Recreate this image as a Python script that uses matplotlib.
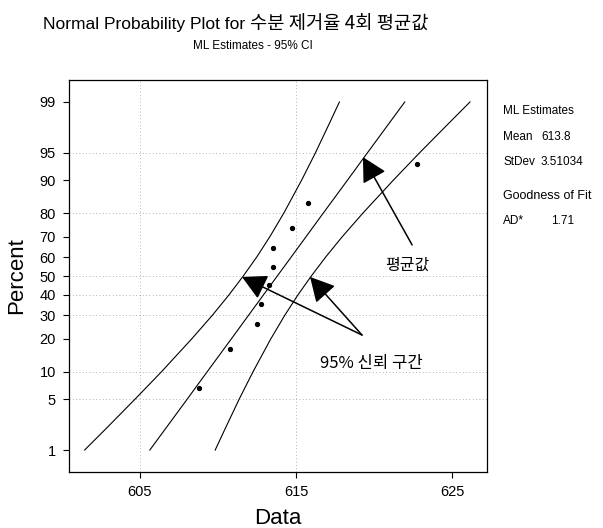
import matplotlib
matplotlib.use("Agg")
import matplotlib.pyplot as plt
from matplotlib import font_manager
from statistics import NormalDist

# values
data_x = [608.75, 610.75, 612.5, 612.75, 613.25, 613.5, 613.5, 614.75, 615.75, 622.75]
data_pct = [6.7, 16.3, 26.0, 35.6, 45.2, 54.8, 64.4, 74.0, 83.7, 93.3]

band_pct = [1, 2, 5, 10, 20, 30, 40, 50, 60, 70, 80, 90, 95, 98, 99]
fit_x = [605.63, 606.59, 608.03, 609.30, 610.85, 611.96, 612.91, 613.80,
         614.69, 615.64, 616.75, 618.30, 619.57, 621.01, 621.97]
lower_x = [601.45, 602.76, 604.69, 606.37, 608.31, 609.64, 610.70, 611.62,
           612.48, 613.32, 614.22, 615.36, 616.24, 617.17, 617.78]
upper_x = [609.82, 610.43, 611.36, 612.24, 613.38, 614.28, 615.12, 615.98,
           616.90, 617.96, 619.29, 621.24, 622.91, 624.85, 626.15]

ytick_pct = [1, 5, 10, 20, 30, 40, 50, 60, 70, 80, 90, 95, 99]
xticks = [605, 615, 625]
ygrid_pct = [5, 10, 30, 40, 50, 80, 95]
xgrid = [605, 615]

stats_lines = [("ML Estimates", None), ("Mean", "613.8"), ("StDev", "3.51034"),
               ("Goodness of Fit", None), ("AD*", "1.71")]

names = {f.name for f in font_manager.fontManager.ttflist}
LAT = "Liberation Sans Narrow" if "Liberation Sans Narrow" in names else "Liberation Sans"
KR = "Noto Sans CJK KR"
FAM = [LAT, KR, "DejaVu Sans"]
KFAM = [KR, "DejaVu Sans"]

nd = NormalDist()
z = lambda p: nd.inv_cdf(p / 100.0)

fig = plt.figure(figsize=(6.03, 5.28), dpi=100)
ax = fig.add_axes([69 / 603, 1 - 472 / 528, 418 / 603, 392 / 528])

for g in ygrid_pct:
    ax.axhline(z(g), color="#9a9a9a", lw=0.6, ls=(0, (1, 3)), zorder=0)
for g in xgrid:
    ax.axvline(g, color="#9a9a9a", lw=0.6, ls=(0, (1, 3)), zorder=0)

bz = [z(p) for p in band_pct]
ax.plot(fit_x, bz, color="black", lw=0.8)
ax.plot(lower_x, bz, color="black", lw=0.8)
ax.plot(upper_x, bz, color="black", lw=0.8)
ax.plot(data_x, [z(p) for p in data_pct], "o", color="black", ms=2.8, zorder=3)

arrow = dict(arrowstyle="-|>,head_length=1.5,head_width=0.8", color="black",
             lw=1.1, mutation_scale=10, shrinkA=0, shrinkB=0)
ax.annotate("", xy=(619.29, z(94.4)), xytext=(622.44, z(66.1)), arrowprops=arrow)
ax.annotate("", xy=(611.54, z(49.5)), xytext=(619.23, z(21.5)), arrowprops=arrow)
ax.annotate("", xy=(615.9, z(49.5)), xytext=(619.23, z(21.5)), arrowprops=arrow)
ax.text(622.12, z(55.8), "평균값", family=KFAM, fontsize=11.5, ha="center", va="center")
ax.text(619.81, z(12.2), "95% 신뢰 구간", family=KFAM, fontsize=12,
        ha="center", va="center")

ax.set_xlim(600.45, 627.24)
ax.set_ylim(-2.62, 2.62)
ax.set_xticks(xticks)
ax.set_xticklabels([str(t) for t in xticks], family=FAM, fontsize=10.5)
ax.set_yticks([z(p) for p in ytick_pct])
ax.set_yticklabels([str(p) for p in ytick_pct], family=FAM, fontsize=10.5)
ax.tick_params(direction="out", length=4.5, width=0.8, pad=5)
for s in ax.spines.values():
    s.set_linewidth(0.9)

# title: latin part narrower than the hangul part in the reference
ty = 1 - 24 / 528
t1 = fig.text(43 / 603, ty, "Normal Probability Plot for ", family=FAM,
              fontsize=12.5, ha="left", va="center")
fig.canvas.draw()
x_end = t1.get_window_extent().x1 / fig.bbox.width
fig.text(x_end, ty, "수분 제거율 4회 평균값", family=KFAM, fontsize=13.5,
         ha="left", va="center")
fig.text(253 / 603, 1 - 46 / 528, "ML Estimates - 95% CI", family=FAM,
         fontsize=8.5, ha="center", va="center")
fig.text(17 / 603, 1 - 276 / 528, "Percent", family=FAM, fontsize=16,
         rotation=90, ha="center", va="center")
fig.text(278 / 603, 1 - 518 / 528, "Data", family=FAM, fontsize=16,
         ha="center", va="center")

ys = [111, 137, 162, 196, 221]
sizes = [8.5, 8.5, 8.5, 9, 8.5]
for (lab, val), y, fs in zip(stats_lines, ys, sizes):
    fig.text(503 / 603, 1 - y / 528, lab, family=FAM, fontsize=fs, va="center")
    if val:
        vx = 551 if lab == "AD*" else 541
        fig.text(vx / 603, 1 - y / 528, val, family=FAM, fontsize=fs, va="center")

fig.savefig("out.png", dpi=100)
